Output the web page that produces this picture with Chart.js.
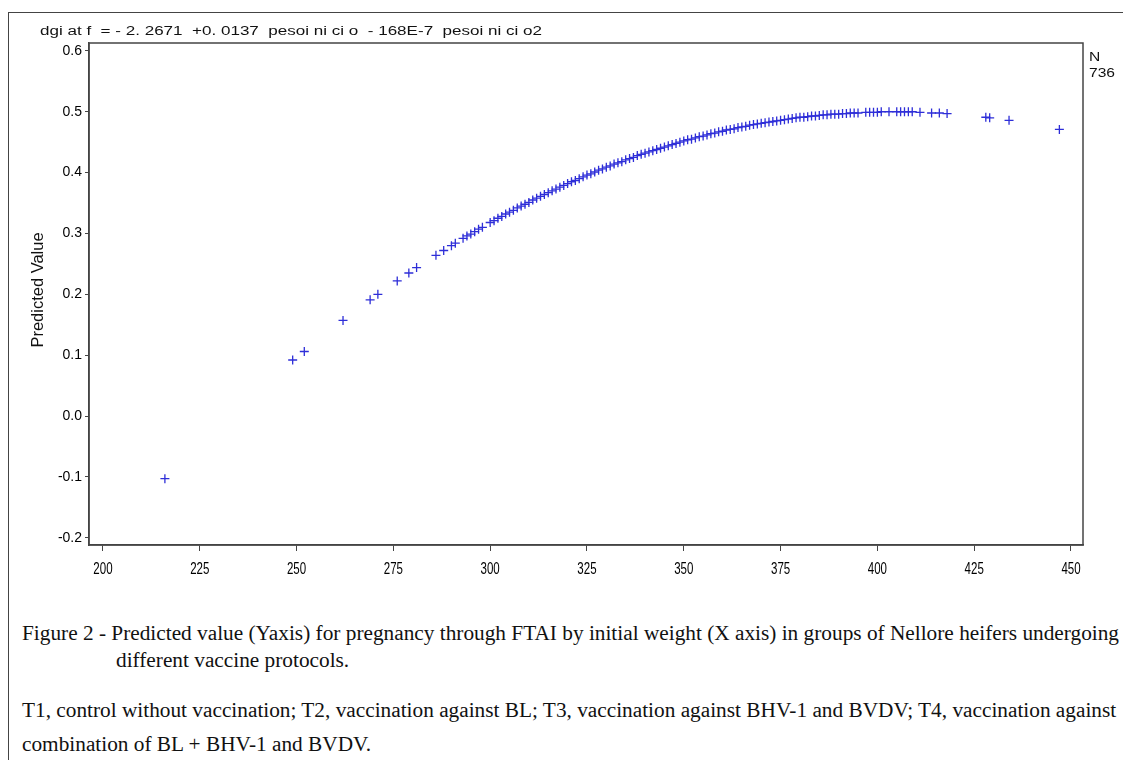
<!DOCTYPE html>
<html>
<head>
<meta charset="utf-8">
<script src="https://cdn.jsdelivr.net/npm/chart.js@4.4.1/dist/chart.umd.min.js"></script>
<style>
  html, body { margin: 0; padding: 0; background: #fff; width: 1123px; height: 760px; overflow: hidden; }
  #frame { position: absolute; left: 8px; top: 12px; width: 1200px; height: 800px; border-left: 1.5px solid #444; border-top: 1.5px solid #444; }
  #wrap { position: absolute; left: 0; top: 0; width: 1123px; height: 600px; }
  .cap { position: absolute; font-family: "Liberation Serif", "Times New Roman", serif; font-size: 21.3px; color: #111; white-space: nowrap; line-height: 1; }
</style>
</head>
<body>
<div id="frame"></div>
<div id="wrap"><canvas id="c" width="1123" height="600"></canvas></div>
<div class="cap" id="l1" style="left:22px; top:623px;">Figure 2 - Predicted value (Yaxis) for pregnancy through FTAI by initial weight (X axis) in groups of Nellore heifers undergoing</div>
<div class="cap" id="l2" style="left:116px; top:650px;">different vaccine protocols.</div>
<div class="cap" id="l3" style="left:22px; top:700px;">T1, control without vaccination; T2, vaccination against BL; T3, vaccination against BHV-1 and BVDV; T4, vaccination against</div>
<div class="cap" id="l4" style="left:22px; top:734px;">combination of BL + BHV-1 and BVDV.</div>
<script>
// ---- data ----
const weights = [216, 249, 252, 262, 269, 271, 276, 279, 281, 286, 288, 290, 291, 293, 294, 295, 296, 297, 298,
  300, 301, 302, 303, 304, 305, 306, 307, 308, 309, 310, 311, 312, 313, 314, 315, 316, 317, 318, 319,
  320, 321, 322, 323, 324, 325, 326, 327, 328, 329, 330, 331, 332, 333, 334, 335, 336, 337, 338, 339,
  340, 341, 342, 343, 344, 345, 346, 347, 348, 349, 350, 351, 352, 353, 354, 355, 356, 357, 358, 359,
  360, 361, 362, 363, 364, 365, 366, 367, 368, 369, 370, 371, 372, 373, 374, 375, 376, 377, 378, 379,
  380, 381, 382, 383, 384, 385, 386, 387, 388, 389, 390, 391, 392, 393, 394, 395, 397, 398, 399, 400,
  401, 403, 405, 406, 407, 408, 409, 411, 414, 416, 418, 428, 429, 434, 447];
const predicted = [-0.103, 0.092, 0.106, 0.157, 0.191, 0.200, 0.222, 0.235, 0.244, 0.264, 0.272, 0.280, 0.284, 0.292, 0.296, 0.299, 0.303, 0.307, 0.310,
  0.318, 0.321, 0.325, 0.328, 0.332, 0.335, 0.338, 0.342, 0.345, 0.348, 0.351, 0.355, 0.358, 0.361, 0.364, 0.367, 0.370, 0.373, 0.376, 0.379,
  0.382, 0.385, 0.387, 0.390, 0.393, 0.396, 0.398, 0.401, 0.404, 0.406, 0.409, 0.411, 0.414, 0.416, 0.418, 0.421, 0.423, 0.425, 0.428, 0.430,
  0.432, 0.434, 0.436, 0.438, 0.440, 0.442, 0.444, 0.446, 0.448, 0.450, 0.452, 0.454, 0.455, 0.457, 0.459, 0.460, 0.462, 0.464, 0.465, 0.467,
  0.468, 0.470, 0.471, 0.472, 0.474, 0.475, 0.476, 0.478, 0.479, 0.480, 0.481, 0.482, 0.483, 0.484, 0.485, 0.486, 0.487, 0.488, 0.489, 0.490,
  0.491, 0.491, 0.492, 0.493, 0.493, 0.494, 0.495, 0.495, 0.496, 0.496, 0.496, 0.497, 0.497, 0.498, 0.498, 0.498, 0.499, 0.499, 0.499, 0.499,
  0.500, 0.500, 0.500, 0.500, 0.500, 0.500, 0.500, 0.499, 0.498, 0.498, 0.497, 0.491, 0.490, 0.486, 0.471];
const xTickValues = [200, 225, 250, 275, 300, 325, 350, 375, 400, 425, 450];
const yTickValues = [-0.2, -0.1, 0.0, 0.1, 0.2, 0.3, 0.4, 0.5, 0.6];
const headerText = "dgi at f  = - 2. 2671  +0. 0137  pesoi ni ci o  - 168E-7  pesoi ni ci o2";
const yTitle = "Predicted Value";
const nLabel = "N";
const nValue = "736";

const points = weights.map((w, i) => ({ x: w, y: predicted[i] }));

function stretchedText(ctx, text, x, y, sx) {
  ctx.save();
  ctx.translate(x, y);
  ctx.scale(sx, 1);
  ctx.fillText(text, 0, 0);
  ctx.restore();
}

const decor = {
  id: 'decor',
  afterDraw(chart) {
    const ctx = chart.ctx;
    const a = chart.chartArea;
    const xs = chart.scales.x;
    ctx.save();
    ctx.strokeStyle = '#444';
    ctx.lineWidth = 1.5;
    ctx.strokeRect(a.left, a.top, a.right - a.left, a.bottom - a.top);
    ctx.fillStyle = '#111';
    ctx.textBaseline = 'middle';
    ctx.textAlign = 'left';
    // header equation (horizontally stretched as in the source)
    ctx.font = '12px "Liberation Sans", Arial, sans-serif';
    stretchedText(ctx, headerText, 40, 32, 1.42);
    // N / 736
    stretchedText(ctx, nLabel, 1089, 58, 1.3);
    stretchedText(ctx, nValue, 1089, 74, 1.3);
    // x tick labels (condensed)
    ctx.fillStyle = '#000';
    ctx.textAlign = 'center';
    ctx.font = '16px "Liberation Sans", Arial, sans-serif';
    xTickValues.forEach(v => {
      stretchedText(ctx, String(v), xs.getPixelForValue(v), 570, 0.72);
    });
    // y title
    ctx.fillStyle = '#111';
    ctx.translate(38, 290);
    ctx.rotate(-Math.PI / 2);
    ctx.font = '17px "Liberation Sans", Arial, sans-serif';
    stretchedText(ctx, yTitle, 0, 0, 0.97);
    ctx.restore();
  }
};

new Chart(document.getElementById('c'), {
  type: 'scatter',
  data: {
    datasets: [{
      data: points,
      pointStyle: 'cross',
      pointRadius: 4.5,
      pointHoverRadius: 4.5,
      borderColor: '#2e2ed8',
      backgroundColor: '#2e2ed8',
      borderWidth: 1.3
    }]
  },
  options: {
    responsive: false,
    animation: false,
    events: [],
    layout: { padding: { top: 43, right: 40, left: 0, bottom: 0 } },
    plugins: { legend: { display: false }, tooltip: { enabled: false } },
    scales: {
      x: {
        type: 'linear',
        min: 196.4,
        max: 453.1,
        afterBuildTicks: s => { s.ticks = xTickValues.map(v => ({ value: v })); },
        afterFit: s => { s.height = 55; },
        grid: { drawOnChartArea: false, drawTicks: true, tickLength: 6, color: '#444', lineWidth: 1 },
        border: { display: true, color: '#444', width: 1.5 },
        ticks: {
          color: 'rgba(0,0,0,0)', padding: 8, maxRotation: 0, autoSkip: false,
          font: { family: '"Liberation Sans", sans-serif', size: 13 }
        }
      },
      y: {
        type: 'linear',
        min: -0.212,
        max: 0.613,
        afterBuildTicks: s => { s.ticks = yTickValues.map(v => ({ value: v })); },
        afterFit: s => { s.width = 89; },
        grid: { drawOnChartArea: false, drawTicks: true, tickLength: 4, color: '#444', lineWidth: 1 },
        border: { display: true, color: '#444', width: 1.5 },
        ticks: {
          color: '#000', padding: 3, autoSkip: false,
          callback: v => v.toFixed(1),
          font: { family: '"Liberation Sans", Arial, sans-serif', size: 14 }
        }
      }
    }
  },
  plugins: [decor]
});
</script>
</body>
</html>
